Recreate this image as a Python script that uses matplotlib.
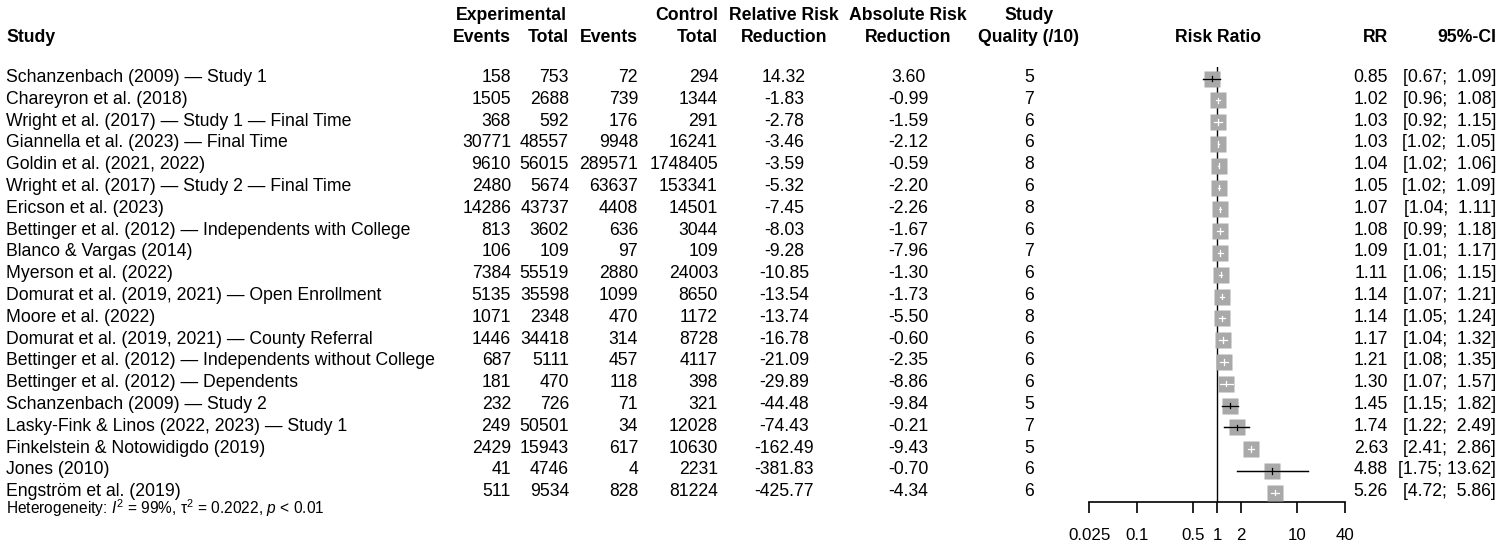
import matplotlib
matplotlib.use("Agg")
import matplotlib.pyplot as plt
import numpy as np

plt.rcParams['font.family'] = ['Liberation Sans', 'DejaVu Sans']
plt.rcParams['mathtext.fontset'] = 'custom'
plt.rcParams['mathtext.rm'] = 'Liberation Sans'
plt.rcParams['mathtext.it'] = 'Liberation Sans:italic'

# data
studies = [
    "Schanzenbach (2009) — Study 1",
    "Chareyron et al. (2018)",
    "Wright et al. (2017) — Study 1 — Final Time",
    "Giannella et al. (2023) — Final Time",
    "Goldin et al. (2021, 2022)",
    "Wright et al. (2017) — Study 2 — Final Time",
    "Ericson et al. (2023)",
    "Bettinger et al. (2012) — Independents with College",
    "Blanco & Vargas (2014)",
    "Myerson et al. (2022)",
    "Domurat et al. (2019, 2021) — Open Enrollment",
    "Moore et al. (2022)",
    "Domurat et al. (2019, 2021) — County Referral",
    "Bettinger et al. (2012) — Independents without College",
    "Bettinger et al. (2012) — Dependents",
    "Schanzenbach (2009) — Study 2",
    "Lasky-Fink & Linos (2022, 2023) — Study 1",
    "Finkelstein & Notowidigdo (2019)",
    "Jones (2010)",
    "Engström et al. (2019)",
]
exp_events = [158, 1505, 368, 30771, 9610, 2480, 14286, 813, 106, 7384,
              5135, 1071, 1446, 687, 181, 232, 249, 2429, 41, 511]
exp_total = [753, 2688, 592, 48557, 56015, 5674, 43737, 3602, 109, 55519,
             35598, 2348, 34418, 5111, 470, 726, 50501, 15943, 4746, 9534]
ctl_events = [72, 739, 176, 9948, 289571, 63637, 4408, 636, 97, 2880,
              1099, 470, 314, 457, 118, 71, 34, 617, 4, 828]
ctl_total = [294, 1344, 291, 16241, 1748405, 153341, 14501, 3044, 109, 24003,
             8650, 1172, 8728, 4117, 398, 321, 12028, 10630, 2231, 81224]
rrr = [14.32, -1.83, -2.78, -3.46, -3.59, -5.32, -7.45, -8.03, -9.28, -10.85,
       -13.54, -13.74, -16.78, -21.09, -29.89, -44.48, -74.43, -162.49, -381.83, -425.77]
arr = [3.60, -0.99, -1.59, -2.12, -0.59, -2.20, -2.26, -1.67, -7.96, -1.30,
       -1.73, -5.50, -0.60, -2.35, -8.86, -9.84, -0.21, -9.43, -0.70, -4.34]
quality = [5, 7, 6, 6, 8, 6, 8, 6, 7, 6, 6, 8, 6, 6, 6, 5, 7, 5, 6, 6]
rr = [0.85, 1.02, 1.03, 1.03, 1.04, 1.05, 1.07, 1.08, 1.09, 1.11,
      1.14, 1.14, 1.17, 1.21, 1.30, 1.45, 1.74, 2.63, 4.88, 5.26]
ci_lo = [0.67, 0.96, 0.92, 1.02, 1.02, 1.02, 1.04, 0.99, 1.01, 1.06,
         1.07, 1.05, 1.04, 1.08, 1.07, 1.15, 1.22, 2.41, 1.75, 4.72]
ci_hi = [1.09, 1.08, 1.15, 1.05, 1.06, 1.09, 1.11, 1.18, 1.17, 1.15,
         1.21, 1.24, 1.32, 1.35, 1.57, 1.82, 2.49, 2.86, 13.62, 5.86]
ticks = [0.025, 0.1, 0.5, 1, 2, 10, 40]
tick_labels = ["0.025", "0.1", "0.5", "1", "2", "10", "40"]

W, H = 1500, 548
fig = plt.figure(figsize=(W / 100, H / 100), dpi=100)

# text layer in pixel coordinates
ax = fig.add_axes([0, 0, 1, 1])
ax.set_xlim(0, W)
ax.set_ylim(H, 0)
ax.axis('off')

fs = 12.7
row0, dy = 78.5, 21.8
h1, h2 = 15, 38

hdr = dict(fontsize=fs, fontweight='bold', va='center')
ax.text(6, h2, "Study", ha='left', **hdr)
ax.text(511, h1, "Experimental", ha='center', **hdr)
ax.text(511, h2, "Events", ha='right', **hdr)
ax.text(569, h2, "Total", ha='right', **hdr)
ax.text(638, h2, "Events", ha='right', **hdr)
ax.text(718, h1, "Control", ha='right', **hdr)
ax.text(718, h2, "Total", ha='right', **hdr)
ax.text(784, h1, "Relative Risk", ha='center', **hdr)
ax.text(784, h2, "Reduction", ha='center', **hdr)
ax.text(908, h1, "Absolute Risk", ha='center', **hdr)
ax.text(908, h2, "Reduction", ha='center', **hdr)
ax.text(1029, h1, "Study", ha='center', **hdr)
ax.text(1029, h2, "Quality (/10)", ha='center', **hdr)
ax.text(1218, h2, "Risk Ratio", ha='center', **hdr)
ax.text(1388, h2, "RR", ha='right', **hdr)
ax.text(1496, h2, "95%-CI", ha='right', **hdr)

for i in range(len(studies)):
    y = row0 - 1 + dy * i
    kw = dict(fontsize=fs, va='center')
    ax.text(6, y, studies[i], ha='left', **kw)
    ax.text(511, y, str(exp_events[i]), ha='right', **kw)
    ax.text(569, y, str(exp_total[i]), ha='right', **kw)
    ax.text(638, y, str(ctl_events[i]), ha='right', **kw)
    ax.text(718, y, str(ctl_total[i]), ha='right', **kw)
    ax.text(784, y, f"{rrr[i]:.2f}", ha='center', **kw)
    ax.text(908, y, f"{arr[i]:.2f}", ha='center', **kw)
    ax.text(1029, y, str(quality[i]), ha='center', **kw)
    ax.text(1388, y, f"{rr[i]:.2f}", ha='right', **kw)
    ax.text(1496, y, f"[{ci_lo[i]:.2f}; {ci_hi[i]:5.2f}]", ha='right', **kw)

ax.text(6, 514,
        r"Heterogeneity: $I^2$ = 99%, $\mathrm{\tau}^2$ = 0.2022, $p$ < 0.01",
        fontsize=11.2, ha='left', va='baseline')

# forest panel
x0, x1 = 1089.3, 1345.3
top, bot = 67, 502
fx = fig.add_axes([x0 / W, (H - bot) / H, (x1 - x0) / W, (bot - top) / H])
fx.set_xscale('log')
fx.set_xlim(ticks[0], ticks[-1])
n = len(studies)
fx.set_ylim((bot - row0) / dy, (top - row0) / dy)
fx.patch.set_alpha(0)
for s in ['top', 'right', 'left']:
    fx.spines[s].set_visible(False)
fx.spines['bottom'].set_linewidth(1.2)
fx.set_yticks([])
fx.set_xticks(ticks)
fx.set_xticklabels(tick_labels)
fx.minorticks_off()
fx.tick_params(axis='x', direction='out', length=8, width=1.2, pad=11, labelsize=12.2)

fx.axvline(1, color='black', lw=1.0, zorder=1)

half = 0.095  # half square width in decades
yy = np.arange(n)
for i in range(n):
    fx.plot([ci_lo[i], ci_hi[i]], [yy[i], yy[i]], color='black', lw=0.9, zorder=2)
fx.plot(rr, yy, 's', color='#a9a9a9', ms=11.8, mec='none', zorder=3)
for i in range(n):
    inside = (np.log10(rr[i]) - np.log10(ci_lo[i]) < half and
              np.log10(ci_hi[i]) - np.log10(rr[i]) < half)
    c = 'white' if inside else 'black'
    fx.plot([ci_lo[i], ci_hi[i]], [yy[i], yy[i]], color=c, lw=0.9, zorder=4)
    fx.plot([rr[i], rr[i]], [yy[i] - 0.12, yy[i] + 0.12], color=c, lw=0.9, zorder=4)

fig.savefig("out.png", dpi=100)
